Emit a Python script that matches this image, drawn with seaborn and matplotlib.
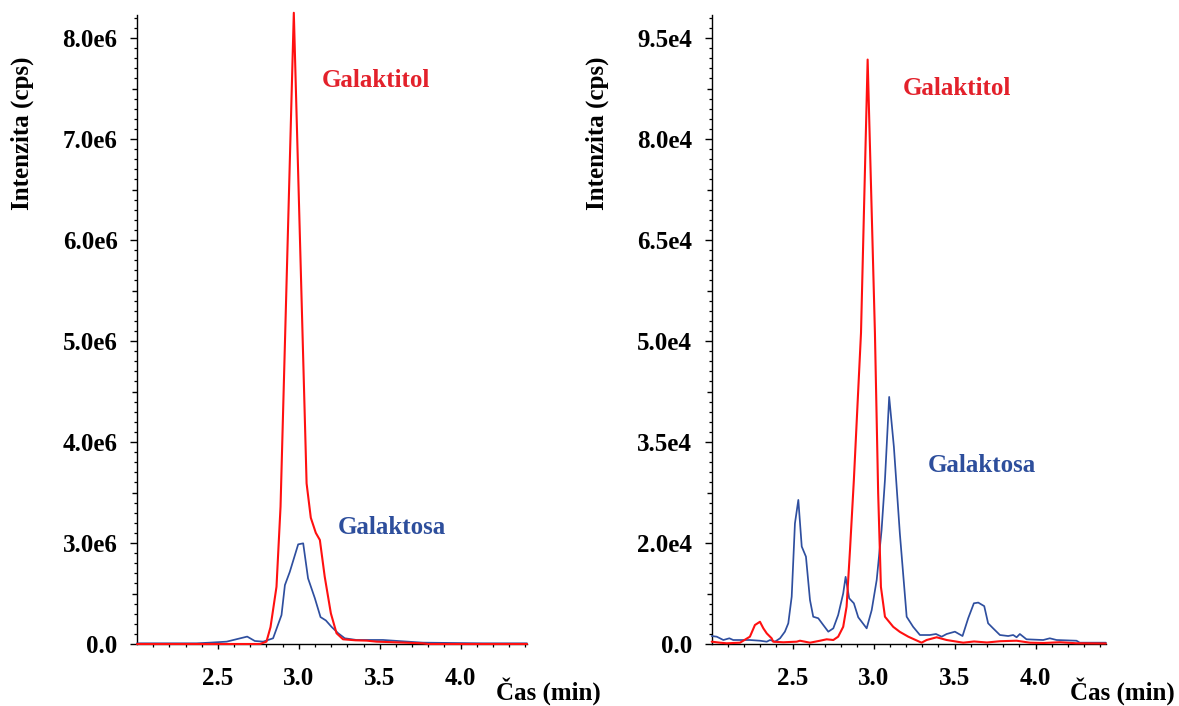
import numpy as np
import pandas as pd
import matplotlib
matplotlib.use("Agg")
import matplotlib.pyplot as plt
import seaborn as sns
from matplotlib.ticker import FixedLocator

# ---- chromatogram A (high concentration) ----
cas_galaktitol_a = [2.00, 2.40, 2.76, 2.80, 2.825, 2.862, 2.887, 2.969, 3.048, 3.074,
                    3.105, 3.13, 3.16, 3.198, 3.233, 3.273, 3.35, 3.42, 3.48, 3.60,
                    3.765, 3.80, 4.10, 4.41]
int_galaktitol_a = [0, 0, 0, 0.07e6, 0.5e6, 1.7e6, 3.36e6, 8.25e6, 3.59e6, 3.25e6,
                    3.10e6, 3.03e6, 2.0e6, 0.91e6, 0.32e6, 0.14e6, 0.11e6, 0.10e6, 0.07e6, 0.05e6,
                    0.02e6, 0, 0, 0]

cas_galaktosa_a = [2.00, 2.368, 2.45, 2.554, 2.681, 2.728, 2.78, 2.841, 2.893, 2.914,
                   2.944, 2.996, 3.027, 3.057, 3.099, 3.134, 3.167, 3.202, 3.243, 3.284,
                   3.356, 3.52, 3.58, 3.767, 4.14, 4.41]
int_galaktosa_a = [0.02e6, 0.02e6, 0.04e6, 0.07e6, 0.22e6, 0.09e6, 0.07e6, 0.17e6, 0.86e6, 1.75e6,
                   2.14e6, 2.96e6, 2.99e6, 1.95e6, 1.36e6, 0.80e6, 0.70e6, 0.51e6, 0.32e6, 0.17e6,
                   0.12e6, 0.12e6, 0.10e6, 0.04e6, 0.02e6, 0.02e6]

# ---- chromatogram B (low concentration) ----
cas_galaktitol_b = [2.00, 2.051, 2.093, 2.175, 2.236, 2.267, 2.298, 2.319, 2.34, 2.37,
                    2.38, 2.442, 2.525, 2.545, 2.607, 2.669, 2.71, 2.751, 2.781, 2.812,
                    2.833, 2.854, 2.878, 2.922, 2.963, 3.008, 3.028, 3.045, 3.07, 3.121,
                    3.162, 3.214, 3.296, 3.327, 3.389, 3.451, 3.553, 3.62, 3.70, 3.78,
                    3.883, 3.965, 4.05, 4.15, 4.25, 4.434]
int_galaktitol_b = [460, 260, 140, 260, 1450, 3760, 4400, 3100, 2100, 1130,
                    460, 340, 460, 650, 260, 650, 930, 790, 1450, 3400,
                    7400, 18600, 29400, 51200, 91800, 51200, 27400, 11300, 5400, 3400,
                    2400, 1450, 260, 790, 1330, 790, 260, 500, 300, 550,
                    650, 260, 200, 350, 150, 100]

cas_galaktosa_b = [2.00, 2.031, 2.072, 2.109, 2.133, 2.236, 2.298, 2.34, 2.36, 2.391,
                   2.422, 2.452, 2.473, 2.494, 2.514, 2.535, 2.556, 2.582, 2.607, 2.627,
                   2.658, 2.689, 2.72, 2.751, 2.781, 2.812, 2.827, 2.849, 2.878, 2.905,
                   2.957, 2.988, 3.019, 3.049, 3.07, 3.096, 3.125, 3.162, 3.204, 3.244,
                   3.286, 3.347, 3.385, 3.42, 3.451, 3.502, 3.549, 3.584, 3.619, 3.646,
                   3.683, 3.707, 3.738, 3.78, 3.831, 3.862, 3.883, 3.903, 3.944, 4.047,
                   4.088, 4.13, 4.253, 4.273, 4.434]
int_galaktosa_b = [1580, 1450, 790, 1130, 790, 790, 650, 460, 790, 460,
                   1130, 2440, 4100, 9370, 22900, 26400, 19300, 17300, 8700, 5400,
                   5100, 3760, 2440, 3100, 5740, 10000, 13300, 9050, 8060, 5290,
                   3100, 6700, 12700, 21900, 29400, 41700, 34300, 21400, 5400, 3400,
                   1780, 1780, 1980, 1450, 1980, 2440, 1580, 5100, 8060, 8200,
                   7500, 4100, 3100, 1780, 1580, 1780, 1330, 1980, 930, 790,
                   1130, 790, 650, 260, 260]

# ---- axis labelling ----
yticks_a = [0, 3.0e6, 4.0e6, 5.0e6, 6.0e6, 7.0e6, 8.0e6]
ylabels_a = ["0.0", "3.0e6", "4.0e6", "5.0e6", "6.0e6", "7.0e6", "8.0e6"]
yticks_b = [0, 2.0e4, 3.5e4, 5.0e4, 6.5e4, 8.0e4, 9.5e4]
ylabels_b = ["0.0", "2.0e4", "3.5e4", "5.0e4", "6.5e4", "8.0e4", "9.5e4"]
xticks = [2.5, 3.0, 3.5, 4.0]
xlabels = ["2.5", "3.0", "3.5", "4.0"]

RED = "#ff1010"
BLUE = "#2f4f9f"
RED_TXT = "#e3212b"
BLUE_TXT = "#2d4e9c"
INK = "#000000"

sns.set_theme(style="white")
plt.rcParams["font.family"] = ["Liberation Serif", "DejaVu Serif"]
plt.rcParams["font.weight"] = "bold"
plt.rcParams["axes.labelweight"] = "bold"
plt.rcParams["text.color"] = INK
plt.rcParams["xtick.color"] = INK
plt.rcParams["ytick.color"] = INK
plt.rcParams["xtick.labelcolor"] = INK
plt.rcParams["ytick.labelcolor"] = INK


def tick_scale(ticks):
    """Piecewise-linear scale placing consecutive tick values one unit apart."""
    ticks = np.asarray(ticks, float)
    idx = np.arange(len(ticks), dtype=float)
    lo = ticks[1] - ticks[0]
    hi = ticks[-1] - ticks[-2]

    def fwd(v):
        v = np.asarray(v, float)
        out = np.interp(v, ticks, idx)
        out = np.where(v < ticks[0], (v - ticks[0]) / lo, out)
        out = np.where(v > ticks[-1], idx[-1] + (v - ticks[-1]) / hi, out)
        return out

    def inv(t):
        t = np.asarray(t, float)
        out = np.interp(t, idx, ticks)
        out = np.where(t < 0, ticks[0] + t * lo, out)
        out = np.where(t > idx[-1], ticks[-1] + (t - idx[-1]) * hi, out)
        return out

    return fwd, inv


W, H = 1179, 706
fig = plt.figure(figsize=(W / 100, H / 100), dpi=100)
ax_a = fig.add_axes([137 / W, 1 - 644 / H, 390 / W, 629 / H])
ax_b = fig.add_axes([711.7 / W, 1 - 644 / H, 394.3 / W, 629 / H])

panels = [
    (ax_a, cas_galaktitol_a, int_galaktitol_a, cas_galaktosa_a, int_galaktosa_a,
     yticks_a, ylabels_a, 4.41, (0.613, 0.8855), (0.654, 0.175), 1.19),
    (ax_b, cas_galaktitol_b, int_galaktitol_b, cas_galaktosa_b, int_galaktosa_b,
     yticks_b, ylabels_b, 4.435, (0.622, 0.873), (0.685, 0.274), 1.175),
]

for (ax, cx_r, iy_r, cx_b, iy_b, yt, yl, xmax, pos_r, pos_b, cas_x) in panels:
    df_b = pd.DataFrame({"cas": cx_b, "intenzita": iy_b})
    df_r = pd.DataFrame({"cas": cx_r, "intenzita": iy_r})
    sns.lineplot(data=df_b, x="cas", y="intenzita", ax=ax, color=BLUE, linewidth=1.25,
                 estimator=None)
    sns.lineplot(data=df_r, x="cas", y="intenzita", ax=ax, color=RED, linewidth=1.5,
                 estimator=None)
    for ln in ax.lines:
        ln.set_clip_on(False)
        ln.set_zorder(4)

    fwd, inv = tick_scale(yt)
    ax.set_yscale("function", functions=(fwd, inv))
    top_t = 6.228
    ax.set_ylim(0, float(inv(top_t)))
    ax.set_xlim(2.0, xmax)

    # labelled ticks plus half-step ticks
    half = np.arange(0, 6.01, 0.5)
    ax.set_yticks(inv(half))
    ax.set_yticklabels([yl[int(h)] if h == int(h) else "" for h in half])
    minor_t = [k / 10 for k in range(0, 63) if k % 5 != 0]
    ax.yaxis.set_minor_locator(FixedLocator(inv(np.array(minor_t))))

    ax.set_xticks(xticks)
    ax.set_xticklabels(xlabels)
    ax.xaxis.set_minor_locator(FixedLocator(np.round(np.arange(2.1, xmax, 0.1), 2)))

    ax.tick_params(axis="y", which="major", direction="out", length=5, width=1,
                   color=INK, labelcolor=INK, pad=9, labelsize=18, left=True)
    ax.tick_params(axis="y", which="minor", direction="out", length=2.2, width=0.9,
                   color=INK, left=True)
    ax.tick_params(axis="x", which="major", direction="out", length=3.5, width=1,
                   color=INK, labelcolor=INK, pad=13, labelsize=18, bottom=True)
    ax.tick_params(axis="x", which="minor", direction="out", length=2.5, width=0.9,
                   color=INK, bottom=True)
    for h, tk in zip(half, ax.yaxis.get_major_ticks()):
        if h != int(h):
            tk.tick1line.set_markersize(3.6)

    for side in ("top", "right"):
        ax.spines[side].set_visible(False)
    for side in ("left", "bottom"):
        ax.spines[side].set_color(INK)
        ax.spines[side].set_linewidth(1.0)

    ax.set_xlabel("")
    ax.set_ylabel("")
    ax.set_facecolor("white")

    ax.text(pos_r[0], pos_r[1], "Galaktitol", transform=ax.transAxes, color=RED_TXT,
            fontsize=18, fontweight="bold", ha="center", va="baseline")
    ax.text(pos_b[0], pos_b[1], "Galaktosa", transform=ax.transAxes, color=BLUE_TXT,
            fontsize=18, fontweight="bold", ha="center", va="baseline")
    ax.text(cas_x, -0.089, "Čas (min)", transform=ax.transAxes, color=INK,
            fontsize=18, fontweight="bold", ha="right", va="baseline")

fig.text(22 / W, 1 - 133 / H, "Intenzita (cps)", rotation=90, ha="center", va="center",
         fontsize=18, fontweight="bold", color=INK)
fig.text(597 / W, 1 - 133 / H, "Intenzita (cps)", rotation=90, ha="center", va="center",
         fontsize=18, fontweight="bold", color=INK)

fig.savefig("out.png", dpi=100, facecolor="white")
